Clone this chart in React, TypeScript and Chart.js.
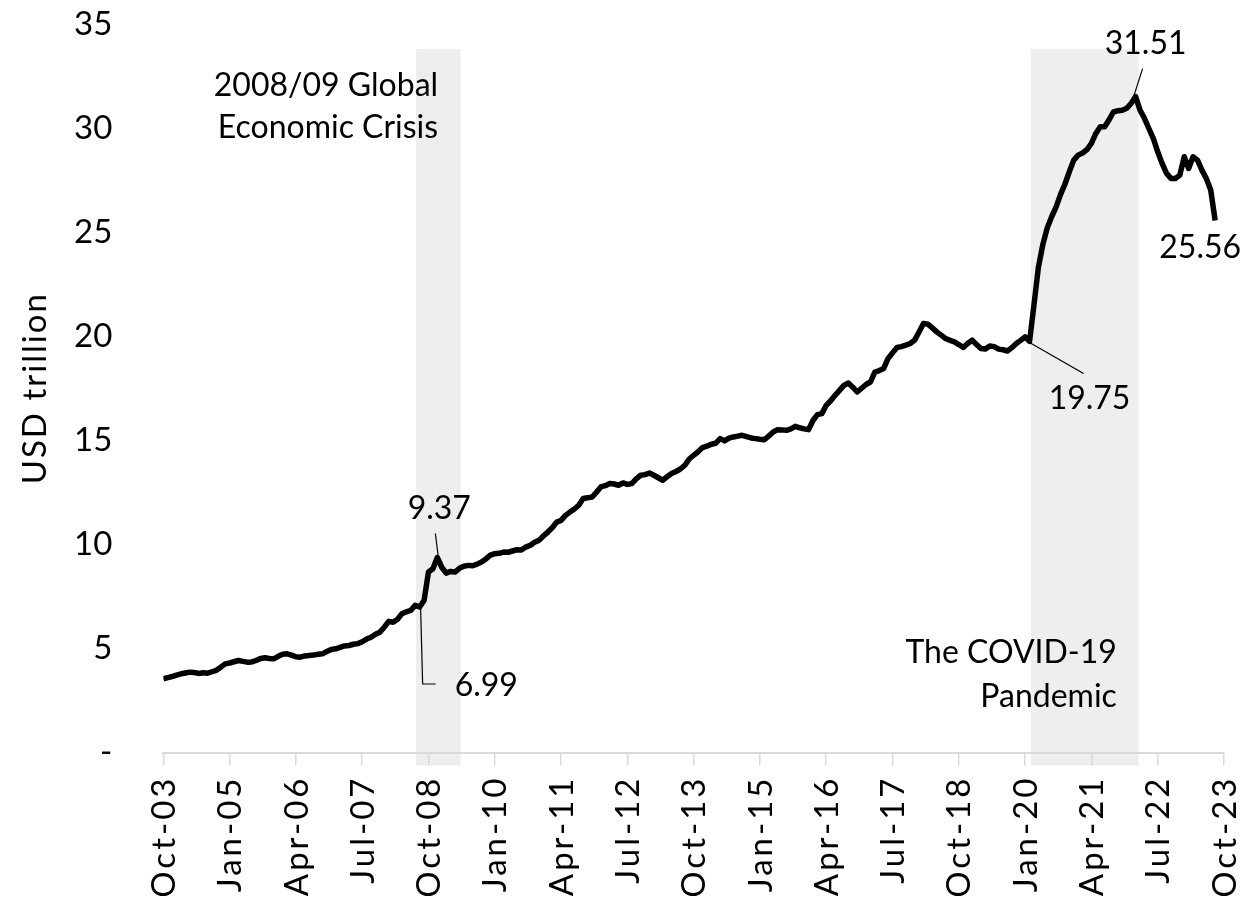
import React, { useEffect, useRef } from 'react';
import { Chart, registerables } from 'chart.js';

Chart.register(...registerables);

// Monthly values, Oct-03 (index 0) to Aug-23 (index 238), USD trillion
const monthValues: number[] = [
  3.54, 3.60, 3.65, 3.72, 3.78, 3.82, 3.86, 3.84, 3.80, 3.83, 3.81, 3.88,
  3.95, 4.10, 4.26, 4.30, 4.36, 4.42, 4.38, 4.34, 4.35, 4.42, 4.52, 4.55,
  4.52, 4.50, 4.62, 4.72, 4.74, 4.68, 4.60, 4.58, 4.64, 4.66, 4.68, 4.72,
  4.74, 4.85, 4.95, 4.98, 5.05, 5.12, 5.14, 5.20, 5.23, 5.32, 5.45, 5.54,
  5.68, 5.78, 6.02, 6.30, 6.26, 6.40, 6.67, 6.76, 6.83, 7.07, 6.99, 7.30,
  8.67, 8.83, 9.37, 8.90, 8.62, 8.70, 8.67, 8.85, 8.95, 8.99, 8.97, 9.05,
  9.15, 9.30, 9.48, 9.55, 9.57, 9.63, 9.62, 9.68, 9.74, 9.73, 9.87, 9.95,
  10.10, 10.19, 10.40, 10.59, 10.80, 11.07, 11.15, 11.39, 11.55, 11.70, 11.88, 12.20,
  12.24, 12.27, 12.50, 12.76, 12.82, 12.92, 12.90, 12.84, 12.95, 12.88, 12.92, 13.15,
  13.32, 13.35, 13.43, 13.32, 13.20, 13.08, 13.25, 13.40, 13.50, 13.62, 13.80, 14.10,
  14.28, 14.45, 14.65, 14.72, 14.81, 14.86, 15.08, 14.97, 15.10, 15.16, 15.20, 15.24,
  15.18, 15.11, 15.08, 15.05, 15.03, 15.20, 15.40, 15.51, 15.50, 15.48, 15.55, 15.67,
  15.60, 15.55, 15.51, 15.95, 16.23, 16.28, 16.68, 16.90, 17.16, 17.40, 17.64, 17.75,
  17.55, 17.32, 17.50, 17.68, 17.80, 18.28, 18.35, 18.45, 18.93, 19.20, 19.46, 19.50,
  19.57, 19.65, 19.81, 20.20, 20.61, 20.58, 20.40, 20.21, 20.05, 19.89, 19.80, 19.73,
  19.60, 19.46, 19.65, 19.81, 19.60, 19.41, 19.38, 19.53, 19.50, 19.38, 19.35, 19.29,
  19.45, 19.65, 19.80, 19.97, 19.75, 21.50, 23.30, 24.40, 25.20, 25.74, 26.20, 26.80,
  27.30, 27.90, 28.46, 28.70, 28.80, 28.97, 29.26, 29.74, 30.06, 30.06, 30.40, 30.78,
  30.83, 30.86, 30.95, 31.19, 31.51, 30.86, 30.47, 29.98, 29.50, 28.86, 28.30, 27.82,
  27.58, 27.58, 27.74, 28.62, 28.06, 28.62, 28.46, 27.98, 27.58, 27.02, 25.56,
];

// X axis ticks (month index from Oct-03) and their labels
const xTickMonths: number[] = [0, 15, 30, 45, 60, 75, 90, 105, 120, 135, 150, 165, 180, 195, 210, 225, 240];
const xTickLabels: string[] = [
  'Oct-03', 'Jan-05', 'Apr-06', 'Jul-07', 'Oct-08', 'Jan-10', 'Apr-11', 'Jul-12', 'Oct-13',
  'Jan-15', 'Apr-16', 'Jul-17', 'Oct-18', 'Jan-20', 'Apr-21', 'Jul-22', 'Oct-23',
];

// Y axis ticks
const yTickValues: number[] = [0, 5, 10, 15, 20, 25, 30, 35];
const yTickLabels: string[] = ['-', '5', '10', '15', '20', '25', '30', '35'];
const yAxisTitle = 'USD trillion';

// Shaded periods (month index) and their captions
const shadeStart: number[] = [57.2, 196.3];
const shadeEnd: number[] = [67.3, 220.7];
const shadeTopValue = 33.8;
const periodCaptions: string[][] = [
  ['2008/09 Global', 'Economic Crisis'],
  ['The COVID-19', 'Pandemic'],
];

// Called-out data points (month index)
const calloutIndex: number[] = [58, 62, 196, 220, 238];

const FONT = 'Lato';

const overlayPlugin = {
  id: 'overlay',
  beforeDraw(chart: any) {
    const { ctx, scales } = chart;
    const xs = scales.x;
    const ys = scales.y;
    ctx.save();
    ctx.fillStyle = '#eeeeee';
    const top = ys.getPixelForValue(shadeTopValue);
    const bottom = ys.getPixelForValue(0) + 13;
    for (let i = 0; i < shadeStart.length; i++) {
      const x1 = xs.getPixelForValue(shadeStart[i]);
      const x2 = xs.getPixelForValue(shadeEnd[i]);
      ctx.fillRect(x1, top, x2 - x1, bottom - top);
    }
    ctx.restore();
  },
  afterDraw(chart: any) {
    const { ctx, scales, chartArea } = chart;
    const xs = scales.x;
    const ys = scales.y;
    ctx.save();
    ctx.fillStyle = '#000';
    ctx.strokeStyle = '#000';

    // x tick labels, rotated
    ctx.font = `33px ${FONT}`;
    (ctx as any).letterSpacing = '3px';
    ctx.textAlign = 'right';
    ctx.textBaseline = 'middle';
    for (let i = 0; i < xTickMonths.length; i++) {
      const px = xs.getPixelForValue(xTickMonths[i]);
      ctx.save();
      ctx.translate(px + 1, xs.top + 23);
      ctx.rotate(-Math.PI / 2);
      ctx.fillText(xTickLabels[i], 0, 0);
      ctx.restore();
    }

    // y axis title, rotated
    ctx.font = `33px ${FONT}`;
    (ctx as any).letterSpacing = '2px';
    ctx.textAlign = 'center';
    ctx.textBaseline = 'middle';
    ctx.save();
    ctx.translate(27, (chartArea.top + chartArea.bottom) / 2);
    ctx.rotate(-Math.PI / 2);
    ctx.fillText(yAxisTitle, 0, 0);
    ctx.restore();

    (ctx as any).letterSpacing = '0px';
    ctx.font = `32px ${FONT}`;

    // period captions
    ctx.textAlign = 'right';
    ctx.textBaseline = 'middle';
    const c0x = xs.getPixelForValue(shadeStart[0]) + 22;
    const c0y = ys.getPixelForValue(30);
    ctx.fillText(periodCaptions[0][0], c0x, c0y - 42);
    ctx.fillText(periodCaptions[0][1], c0x, c0y);
    const c1x = xs.getPixelForValue(shadeStart[1]) + 86;
    const c1y = ys.getPixelForValue(5);
    ctx.fillText(periodCaptions[1][0], c1x, c1y + 4);
    ctx.fillText(periodCaptions[1][1], c1x, c1y + 48);

    // callouts
    const pt = (i: number) => ({ x: xs.getPixelForValue(i), y: ys.getPixelForValue(monthValues[i]) });
    const label = (i: number) => monthValues[i].toFixed(2);
    ctx.lineWidth = 1.2;

    // 6.99
    let p = pt(calloutIndex[0]);
    ctx.beginPath();
    ctx.moveTo(p.x + 1, p.y + 2);
    ctx.lineTo(p.x + 3, p.y + 77);
    ctx.lineTo(p.x + 16, p.y + 77);
    ctx.stroke();
    ctx.textAlign = 'left';
    ctx.fillText(label(calloutIndex[0]), p.x + 35, p.y + 79);

    // 9.37
    p = pt(calloutIndex[1]);
    ctx.beginPath();
    ctx.moveTo(p.x + 1, p.y);
    ctx.lineTo(p.x - 2, p.y - 24);
    ctx.stroke();
    ctx.textAlign = 'center';
    ctx.fillText(label(calloutIndex[1]), p.x + 2, p.y - 49);

    // 19.75
    p = pt(calloutIndex[2]);
    ctx.beginPath();
    ctx.moveTo(p.x, p.y + 1);
    ctx.lineTo(p.x + 54, p.y + 32);
    ctx.stroke();
    ctx.textAlign = 'center';
    ctx.fillText(label(calloutIndex[2]), p.x + 60, p.y + 57);

    // 31.51
    p = pt(calloutIndex[3]);
    ctx.beginPath();
    ctx.moveTo(p.x - 2, p.y);
    ctx.lineTo(p.x + 7, p.y - 28);
    ctx.stroke();
    ctx.textAlign = 'center';
    ctx.fillText(label(calloutIndex[3]), p.x + 10, p.y - 53);

    // 25.56
    p = pt(calloutIndex[4]);
    ctx.textAlign = 'center';
    ctx.fillText(label(calloutIndex[4]), p.x - 15, p.y + 27);

    ctx.restore();
  },
};

export default function App() {
  const canvasRef = useRef<HTMLCanvasElement | null>(null);

  useEffect(() => {
    if (!canvasRef.current) return;
    const chart = new Chart(canvasRef.current, {
      type: 'line',
      data: {
        datasets: [
          {
            data: monthValues.map((v, i) => ({ x: i, y: v })),
            borderColor: '#000000',
            borderWidth: 5.5,
            pointRadius: 0,
            tension: 0,
            borderJoinStyle: 'round',
            borderCapStyle: 'butt',
            fill: false,
          },
        ],
      },
      options: {
        animation: false,
        responsive: true,
        maintainAspectRatio: false,
        layout: { padding: { left: 0, top: 16, right: 18, bottom: 0 } },
        plugins: {
          legend: { display: false },
          tooltip: { enabled: false },
        },
        scales: {
          x: {
            type: 'linear',
            min: 0,
            max: 240,
            afterBuildTicks: (scale: any) => {
              scale.ticks = xTickMonths.map((v) => ({ value: v }));
            },
            afterFit: (scale: any) => {
              scale.height = 143.5;
              scale.paddingLeft = 0;
              scale.paddingRight = 0;
            },
            grid: {
              drawOnChartArea: false,
              drawTicks: true,
              tickLength: 13,
              color: '#d9d9d9',
              lineWidth: 1.5,
            },
            border: { display: true, color: '#d9d9d9', width: 2 },
            ticks: { display: false },
          },
          y: {
            min: 0,
            max: 35,
            afterBuildTicks: (scale: any) => {
              scale.ticks = yTickValues.map((v) => ({ value: v }));
            },
            afterFit: (scale: any) => {
              scale.width = 155.3;
              scale.paddingTop = 0;
              scale.paddingBottom = 0;
            },
            grid: { display: false, drawTicks: false },
            border: { display: false },
            ticks: {
              padding: 51,
              color: '#000',
              font: { family: FONT, size: 33 },
              callback: (value: any) => {
                const idx = yTickValues.indexOf(Number(value));
                return idx >= 0 ? yTickLabels[idx] : '';
              },
            },
            title: { display: false },
          },
        },
      },
      plugins: [overlayPlugin],
    });
    return () => chart.destroy();
  }, []);

  return (
    <div style={{ position: 'relative', width: 1234, height: 888 }}>
      <canvas ref={canvasRef} />
    </div>
  );
}
